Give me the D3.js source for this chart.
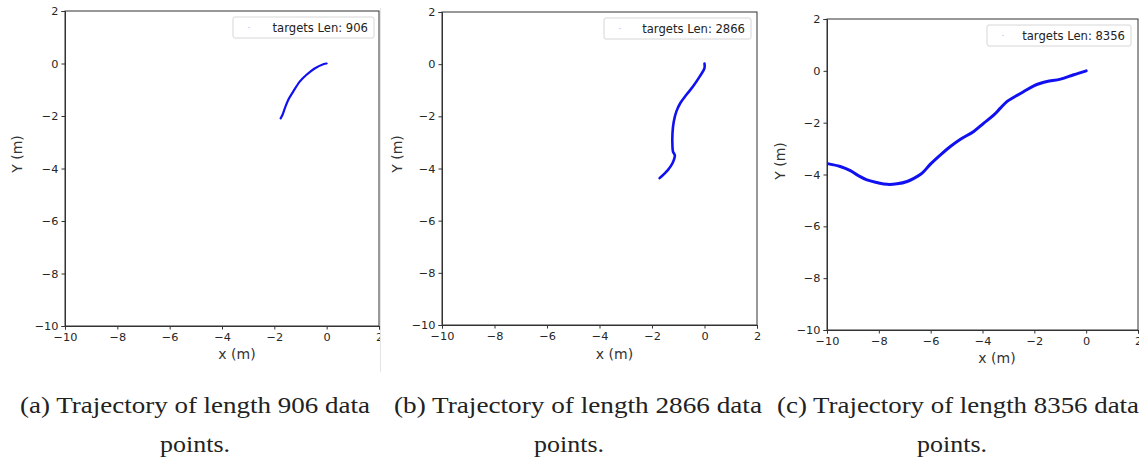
<!DOCTYPE html>
<html>
<head>
<meta charset="utf-8">
<script src="https://cdn.jsdelivr.net/npm/d3@7"></script>
<style>
  body { margin: 0; background: #fff; }
  svg { display: block; }
  .tick text { font-family: "DejaVu Sans", sans-serif; font-size: 11.3px; fill: #262626; }
  .tick line, .domain { stroke: #333; }
  .caption { font-family: "Liberation Serif", "Times New Roman", serif; font-size: 23px; fill: #222; }
</style>
</head>
<body>
<div id="chart"></div>
<script>
// axis ticks shared by all three panels
var xTicks = [-10, -8, -6, -4, -2, 0, 2];
var yTicks = [-10, -8, -6, -4, -2, 0, 2];

// trajectories, [x, y] in metres
var trajA = [[0, 0], [-0.13, -0.03], [-0.46, -0.19], [-0.78, -0.44], [-1.03, -0.69],
  [-1.28, -1.07], [-1.47, -1.39], [-1.6, -1.71], [-1.69, -1.96], [-1.76, -2.09]];
var trajB = [[0, 0.02], [0, -0.15], [-0.18, -0.47], [-0.44, -0.86], [-0.69, -1.17],
  [-0.92, -1.49], [-1.07, -1.81], [-1.17, -2.2], [-1.22, -2.65], [-1.22, -3.16],
  [-1.2, -3.35], [-1.13, -3.5], [-1.22, -3.8], [-1.39, -4.05], [-1.71, -4.37]];
var trajC = [[0, 0], [-0.48, -0.15], [-0.99, -0.32], [-1.51, -0.41], [-1.76, -0.48],
  [-2.02, -0.58], [-2.41, -0.8], [-2.79, -1.02], [-3.05, -1.18], [-3.31, -1.44],
  [-3.56, -1.7], [-3.95, -2.02], [-4.34, -2.34], [-4.85, -2.64], [-5.24, -2.92],
  [-5.62, -3.24], [-6.01, -3.6], [-6.33, -3.95], [-6.53, -4.08], [-6.91, -4.27],
  [-7.3, -4.36], [-7.68, -4.38], [-8.07, -4.31], [-8.46, -4.21], [-8.78, -4.05],
  [-9.1, -3.85], [-9.49, -3.69], [-9.94, -3.59]];

var legendLabels = ["targets Len: 906", "targets Len: 2866", "targets Len: 8356"];
var captions = ["(a) Trajectory of length 906 data", "(b) Trajectory of length 2866 data",
  "(c) Trajectory of length 8356 data"];

// where each panel sits on the page
var panels = [
  {data: trajA, clip: [0, 381], left: 65, right: 379, top: 11, bottom: 326, lw: 2.2,
   legend: [233, 17, 141, 21], ylab: [17.5, 154], xlab: [237, 359], cap: [20, 370, 195]},
  {data: trajB, clip: [381, 762], left: 442, right: 757, top: 12, bottom: 325, lw: 2.6,
   legend: [604, 18, 147, 21], ylab: [397.5, 154], xlab: [614.5, 359], cap: [394, 762, 569]},
  {data: trajC, clip: [762, 1139], left: 827, right: 1138, top: 19, bottom: 330, lw: 3,
   legend: [987, 25, 144, 21], ylab: [780, 161], xlab: [997, 363], cap: [777, 1139, 952]}
];

var svg = d3.select("#chart").append("svg").attr("width", 1139).attr("height", 463);

var fmt = function (d) { return d < 0 ? "\u2212" + Math.abs(d) : d; };

panels.forEach(function (p, i) {
    svg.append("clipPath").attr("id", "clip" + i)
        .append("rect").attr("x", p.clip[0]).attr("y", 0)
        .attr("width", p.clip[1] - p.clip[0]).attr("height", 380);

    var g = svg.append("g").attr("clip-path", "url(#clip" + i + ")");

    var x = d3.scaleLinear().domain([-10, 2]).range([p.left, p.right]);
    var y = d3.scaleLinear().domain([-10, 2]).range([p.bottom, p.top]);

    g.append("g").attr("transform", "translate(0," + p.bottom + ")")
        .call(d3.axisBottom(x).tickValues(xTicks).tickFormat(fmt).tickSizeOuter(0).tickSize(3.5).tickPadding(3));
    g.append("g").attr("transform", "translate(" + p.left + ",0)")
        .call(d3.axisLeft(y).tickValues(yTicks).tickFormat(fmt).tickSizeOuter(0).tickSize(3.5).tickPadding(3));

    // frame
    g.append("rect").attr("x", p.left).attr("y", p.top)
        .attr("width", p.right - p.left).attr("height", p.bottom - p.top)
        .attr("fill", "none").attr("stroke", "#333").attr("stroke-width", 1);

    g.append("path").datum(p.data)
        .attr("fill", "none").attr("stroke", "#1010f0").attr("stroke-width", p.lw)
        .attr("stroke-linecap", "round").attr("stroke-linejoin", "round")
        .attr("d", d3.line().x(function (d) { return x(d[0]); }).y(function (d) { return y(d[1]); })
            .curve(d3.curveCatmullRom));

    // legend
    var L = p.legend;
    g.append("rect").attr("x", L[0]).attr("y", L[1]).attr("width", L[2]).attr("height", L[3])
        .attr("rx", 2).attr("fill", "#fff").attr("stroke", "#d6d6d6");
    g.append("circle").attr("cx", L[0] + 16).attr("cy", L[1] + 10.5).attr("r", 0.8)
        .attr("fill", "#c8c8ff");
    g.append("text").attr("x", L[0] + L[2] - 6).attr("y", L[1] + 14.5)
        .attr("text-anchor", "end").attr("font-family", "DejaVu Sans, sans-serif")
        .attr("font-size", 11.6).attr("fill", "#222").text(legendLabels[i]);

    g.append("text").attr("x", p.xlab[0]).attr("y", p.xlab[1]).attr("text-anchor", "middle")
        .attr("font-family", "DejaVu Sans, sans-serif").attr("font-size", 14).attr("fill", "#333")
        .text("x (m)");
    g.append("text").attr("transform", "translate(" + p.ylab[0] + "," + p.ylab[1] + ") rotate(-90)")
        .attr("text-anchor", "middle").attr("dy", "0.35em")
        .attr("font-family", "DejaVu Sans, sans-serif").attr("font-size", 14).attr("fill", "#333")
        .text("Y (m)");

    // caption
    svg.append("text").attr("class", "caption").attr("x", p.cap[0]).attr("y", 413)
        .attr("textLength", p.cap[1] - p.cap[0]).attr("lengthAdjust", "spacingAndGlyphs")
        .text(captions[i]);
    svg.append("text").attr("class", "caption").attr("x", p.cap[2] - 35).attr("y", 452)
        .attr("textLength", 70).attr("lengthAdjust", "spacingAndGlyphs")
        .text("points.");
});

// thin separator seen left of the middle image
svg.append("line").attr("x1", 380.5).attr("x2", 380.5).attr("y1", 8).attr("y2", 372)
    .attr("stroke", "#e4e4e4");
</script>
</body>
</html>
